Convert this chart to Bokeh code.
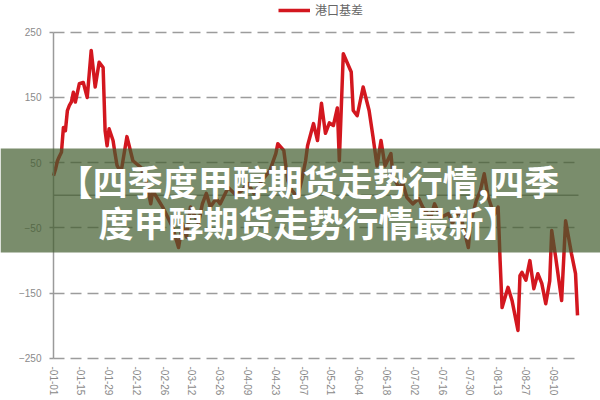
import pandas as pd
from bokeh.plotting import figure
from bokeh.models import Range1d, FixedTicker, BoxAnnotation, Label, Grid
from bokeh.embed import file_html
from bokeh.resources import INLINE

# ---- data ----
series_name = "港口基差"
dates = [
    "2019-01-01", "2019-01-02", "2019-01-03", "2019-01-04", "2019-01-05", "2019-01-06",
    "2019-01-07", "2019-01-08", "2019-01-09", "2019-01-10", "2019-01-11", "2019-01-12",
    "2019-01-14", "2019-01-16", "2019-01-18", "2019-01-20", "2019-01-22", "2019-01-24",
    "2019-01-26", "2019-01-27", "2019-01-28", "2019-01-29", "2019-01-31", "2019-02-01",
    "2019-02-02", "2019-02-04", "2019-02-07", "2019-02-10", "2019-02-14", "2019-02-17",
    "2019-02-19", "2019-02-20", "2019-02-25", "2019-03-02", "2019-03-05", "2019-03-07",
    "2019-03-09", "2019-03-11", "2019-03-15", "2019-03-17", "2019-03-19", "2019-03-21",
    "2019-03-24", "2019-03-26", "2019-03-30", "2019-04-03", "2019-04-06", "2019-04-09",
    "2019-04-12", "2019-04-16", "2019-04-20", "2019-04-23", "2019-04-24", "2019-04-27",
    "2019-04-29", "2019-05-01", "2019-05-04", "2019-05-06", "2019-05-08", "2019-05-09",
    "2019-05-12", "2019-05-14", "2019-05-16", "2019-05-18", "2019-05-20", "2019-05-22",
    "2019-05-24", "2019-05-25", "2019-05-27", "2019-05-31", "2019-06-01", "2019-06-03",
    "2019-06-06", "2019-06-09", "2019-06-11", "2019-06-13", "2019-06-15", "2019-06-17",
    "2019-06-20", "2019-06-21", "2019-06-24", "2019-06-26", "2019-06-28", "2019-07-01",
    "2019-07-04", "2019-07-06", "2019-07-10", "2019-07-12", "2019-07-15", "2019-07-19",
    "2019-07-21", "2019-07-24", "2019-07-25", "2019-07-29", "2019-07-30", "2019-08-02",
    "2019-08-04", "2019-08-06", "2019-08-08", "2019-08-11", "2019-08-13", "2019-08-14",
    "2019-08-15", "2019-08-18", "2019-08-20", "2019-08-23", "2019-08-24", "2019-08-25",
    "2019-08-27", "2019-08-29", "2019-08-31", "2019-09-02", "2019-09-04", "2019-09-06",
    "2019-09-08", "2019-09-09", "2019-09-11", "2019-09-14", "2019-09-16", "2019-09-19",
    "2019-09-21", "2019-09-22",
]
values = [
    30, 40, 53, 60, 66, 104,
    99, 130, 138, 143, 158, 143,
    171, 173, 150, 222, 166, 204,
    196, 99, 76, 102, 84, 64,
    46, 35, 90, 53, 43, 18,
    -13, 7, -18, -49, -80, -43,
    -64, -18, -43, -13, 3, -18,
    -5, -13, 12, 0, 8, 18,
    3, 23, 38, 64, 79, 69,
    23, 8, -3, 23, 53, 76,
    110, 84, 141, 95, 111, 107,
    134, 53, 217, 189, 130, 122,
    166, 130, 89, 45, 84, 45,
    64, 30, 12, 18, -3, -13,
    -5, -18, -34, -13, -34, -28,
    -43, -23, -30, -80, -43, -8,
    7, 33, -3, -30, -18, -100,
    -172, -141, -161, -207, -123, -118,
    -130, -100, -143, -120, -135, -166,
    -131, -54, -95, -161, -39, -90,
    -120, -184,
]
tick_dates = [
    "2019-01-01", "2019-01-15", "2019-01-29", "2019-02-12", "2019-02-26",
    "2019-03-12", "2019-03-26", "2019-04-09", "2019-04-23", "2019-05-07",
    "2019-05-21", "2019-06-04", "2019-06-18", "2019-07-02", "2019-07-16",
    "2019-07-30", "2019-08-13", "2019-08-27", "2019-09-10",
]
y_ticks = [-250, -150, -50, 50, 150, 250]
title_lines = ["【四季度甲醇期货走势行情,四季", "度甲醇期货走势行情最新】"]

start = pd.Timestamp(dates[0])
xs = [(pd.Timestamp(d) - start).days for d in dates]
tick_x = [(pd.Timestamp(d) - start).days for d in tick_dates]
# only the month-day tail of each date label is visible in the picture
tick_text = [d[4:] for d in tick_dates]

x_end = 264.5           # right end of the chart area (days)
y_lo, y_hi = y_ticks[0], y_ticks[-1]

# The frame covers the whole canvas so that the banner can span it;
# axes are pinned inside it with fixed_location.
p = figure(width=600, height=400, output_backend="svg", toolbar_location=None,
           x_range=Range1d(-26.70, 275.58), y_range=Range1d(-314.36, 298.58),
           min_border=0, title=None)
p.outline_line_color = None
p.background_fill_color = "white"
p.border_fill_color = "white"

grey = "#8a8a8a"
# y axis
p.yaxis.fixed_location = 0
p.yaxis.bounds = (y_lo, y_hi)
p.yaxis.ticker = FixedTicker(ticks=y_ticks)
p.yaxis.major_label_overrides = {t: (str(t).replace("-", "\u2212")) for t in y_ticks}
p.yaxis.axis_line_color = "#9a9a9a"
p.yaxis.axis_line_width = 1.5
p.yaxis.major_tick_line_color = "#9a9a9a"
p.yaxis.major_tick_line_width = 1.5
p.yaxis.major_tick_out = 4
p.yaxis.major_tick_in = 0
p.yaxis.minor_tick_line_color = None
p.yaxis.major_label_standoff = 8
p.yaxis.major_label_text_font = "Liberation Sans"
p.yaxis.major_label_text_font_size = "10px"
p.yaxis.major_label_text_color = grey

# x axis
p.xaxis.fixed_location = y_lo
p.xaxis.bounds = (0, x_end)
p.xaxis.ticker = FixedTicker(ticks=tick_x)
p.xaxis.major_label_overrides = {tx: tt for tx, tt in zip(tick_x, tick_text)}
p.xaxis.major_label_orientation = "vertical"
p.xaxis.axis_line_color = None
p.xaxis.major_tick_line_color = None
p.xaxis.major_tick_out = 0
p.xaxis.major_tick_in = 0
p.xaxis.minor_tick_line_color = None
p.xaxis.minor_tick_out = 0
p.xaxis.major_label_standoff = 8
p.xaxis.major_label_text_font = "Liberation Sans"
p.xaxis.major_label_text_font_size = "10px"
p.xaxis.major_label_text_color = grey

# grids: dashed horizontal lines only over the chart area
p.xgrid.visible = False
grid_style = dict(line_color="#9c9c9c", line_width=1.5, line_dash="11 6")
if "cross_bounds" in Grid.properties():
    p.ygrid.ticker = FixedTicker(ticks=y_ticks)
    p.ygrid.cross_bounds = (0, x_end)
    p.ygrid.grid_line_color = grid_style["line_color"]
    p.ygrid.grid_line_width = grid_style["line_width"]
    p.ygrid.grid_line_dash = grid_style["line_dash"]
else:
    p.ygrid.visible = False
    p.segment(x0=[0] * len(y_ticks), x1=[x_end] * len(y_ticks), y0=y_ticks, y1=y_ticks,
              **grid_style)

# solid zero line
p.segment(x0=[0], x1=[x_end], y0=[0], y1=[0], line_color="#9a9a9a", line_width=1.5)

p.line(xs, values, line_color="#d3171f", line_width=3.5, line_join="round", legend_label=series_name)

# legend at the top edge
lg = p.legend[0]
lg.location = (225 + 53, 382)
lg.padding = 0
lg.margin = 0
lg.spacing = 0
lg.border_line_color = None
lg.background_fill_alpha = 0
lg.glyph_width = 32
lg.glyph_height = 14
lg.label_height = 14
lg.label_standoff = 5
lg.label_text_font = "Noto Sans CJK SC"
lg.label_text_font_size = "12px"
lg.label_text_color = "#666666"

# translucent full-width banner across the chart
band = BoxAnnotation(top=71.8, bottom=-87.6, fill_color="#425d2e", fill_alpha=0.7, line_color=None)
p.add_layout(band)

for txt, yv in zip(title_lines, [22.8, -40.0]):
    p.add_layout(Label(x=128.5, y=yv, text=txt, text_align="center", text_baseline="middle",
                       text_color="white", text_font="Noto Sans CJK SC",
                       text_font_size="35px", text_font_style="bold"))

open("out.html", "w").write(file_html(p, INLINE))
